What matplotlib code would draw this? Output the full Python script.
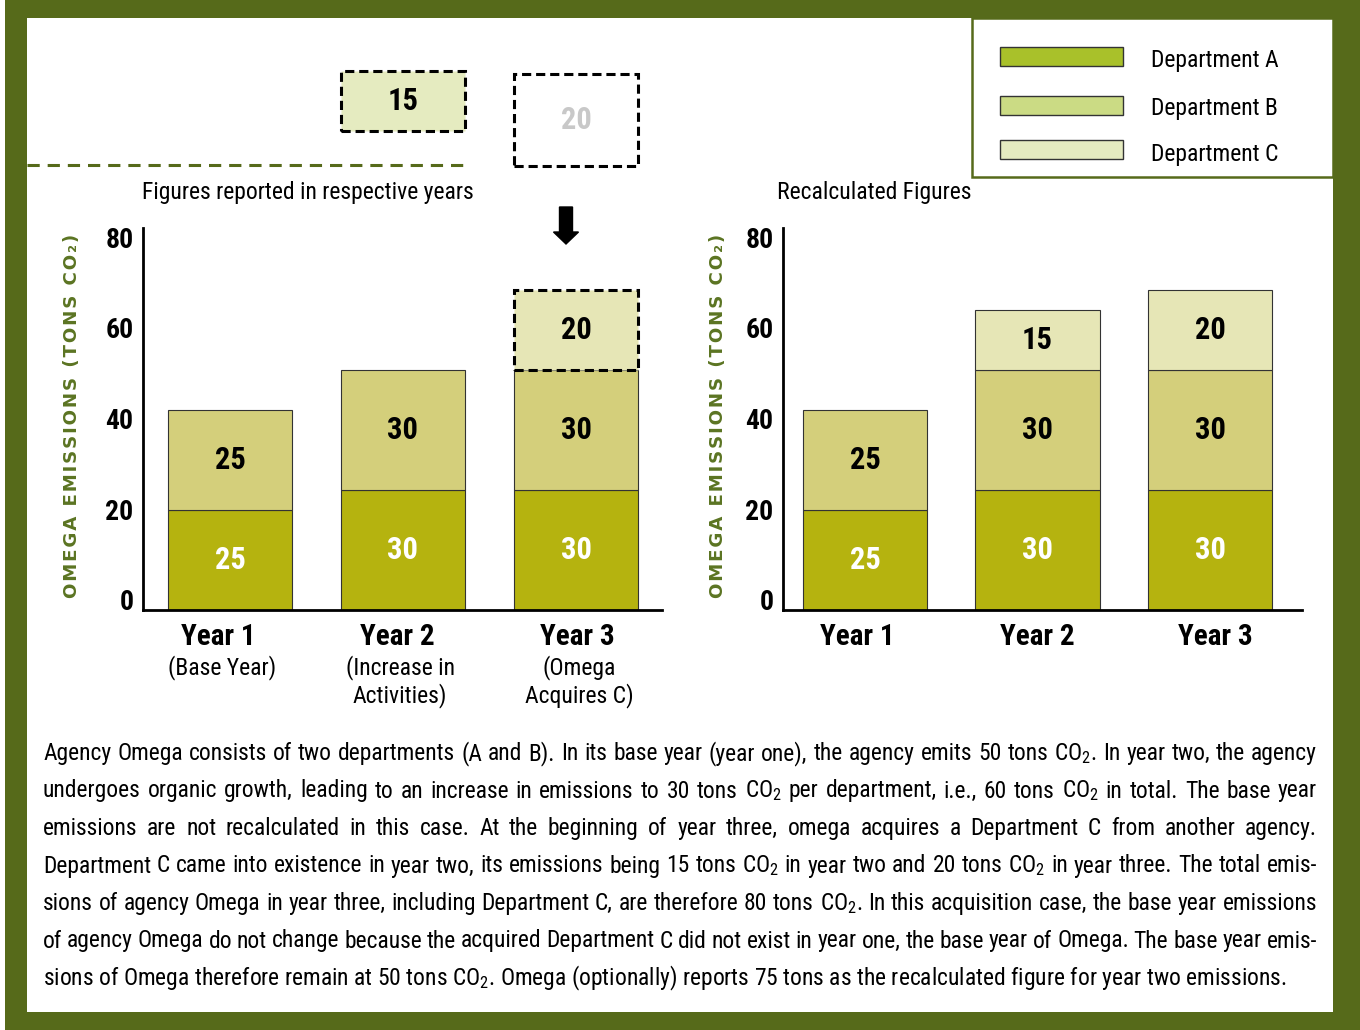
import matplotlib
matplotlib.use("Agg")
import matplotlib.pyplot as plt
from matplotlib import font_manager as fm
from matplotlib.patches import Rectangle, FancyArrow

W, H = 1360, 1030

# ---------------- data ----------------
years = ["Year 1", "Year 2", "Year 3"]
year_notes = ["(Base Year)", "(Increase in\nActivities)", "(Omega\nAcquires C)"]
departments = ["Department A", "Department B", "Department C"]
reported_A = [25, 30, 30]
reported_B = [25, 30, 30]
reported_C = [0, 0, 20]          # year 3: acquired Department C (dashed)
outside_C = [0, 15, 20]          # Department C figures shown above the chart
recalc_A = [25, 30, 30]
recalc_B = [25, 30, 30]
recalc_C = [0, 15, 20]
axis_ticks = [0, 20, 40, 60, 80]
title_left = "Figures reported in respective years"
title_right = "Recalculated Figures"
ylabel_text = "OMEGA EMISSIONS (TONS CO\u2082)"
body_lines = [
    "Agency Omega consists of two departments (A and B). In its base year (year one), the agency emits 50 tons CO$_2$. In year two, the agency",
    "undergoes organic growth, leading to an increase in emissions to 30 tons CO$_2$ per department, i.e., 60 tons CO$_2$ in total. The base year",
    "emissions are not recalculated in this case. At the beginning of year three, omega acquires a Department C from another agency.",
    "Department C came into existence in year two, its emissions being 15 tons CO$_2$ in year two and 20 tons CO$_2$ in year three. The total emis-",
    "sions of agency Omega in year three, including Department C, are therefore 80 tons CO$_2$. In this acquisition case, the base year emissions",
    "of agency Omega do not change because the acquired Department C did not exist in year one, the base year of Omega. The base year emis-",
    "sions of Omega therefore remain at 50 tons CO$_2$. Omega (optionally) reports 75 tons as the recalculated figure for year two emissions.",
]

# ---------------- style ----------------
FRAME = "#566a1a"
OLIVE_TXT = "#5b7422"
COL_A, COL_B, COL_C = "#b5b30f", "#d4cf7b", "#e6e6b6"
LEG_A, LEG_B, LEG_C = "#a9c12a", "#cbdb84", "#e5ebc0"
EDGE = "#333333"

avail = {f.name for f in fm.fontManager.ttflist}
NARROW = "DejaVu Sans"
for cand in ["Roboto Condensed", "Liberation Sans Narrow", "DejaVu Sans Condensed",
             "Open Sans Condensed", "Liberation Sans"]:
    if cand in avail:
        NARROW = cand
        break

plt.rcParams["font.family"] = [NARROW, "DejaVu Sans"]
plt.rcParams["mathtext.fontset"] = "custom"
plt.rcParams["mathtext.rm"] = NARROW
plt.rcParams["mathtext.it"] = NARROW
plt.rcParams["mathtext.bf"] = NARROW + ":bold"

fig = plt.figure(figsize=(W / 100, H / 100), dpi=100, facecolor="white")
renderer = fig.canvas.get_renderer()


def px_rect(x0, y0, x1, y1):
    return [x0 / W, 1 - y1 / H, (x1 - x0) / W, (y1 - y0) / H]


def fx(x):
    return x / W


def fy(y):
    return 1 - y / H


# background frame
bg = fig.add_axes([0, 0, 1, 1], zorder=-5)
bg.set_xlim(0, W)
bg.set_ylim(H, 0)
bg.axis("off")
bg.add_patch(Rectangle((5, 0), W - 5, H, facecolor=FRAME, edgecolor="none"))
bg.add_patch(Rectangle((27, 18), 1333 - 27, 1012 - 18, facecolor="white", edgecolor="none"))

PX_PER_UNIT = 4.0


def make_chart(x0, x1, centers_px, A, B, C, label_x, note_x=None, c_dashed=False):
    y_top, y_bot = 228, 610
    step = centers_px[1] - centers_px[0]
    ax = fig.add_axes(px_rect(x0, y_top, x1, y_bot), zorder=1)
    ax.patch.set_visible(False)
    ax.set_xlim((x0 - centers_px[0]) / step, (x1 - centers_px[0]) / step)
    ax.set_ylim(0, (y_bot - y_top) / PX_PER_UNIT)
    width = 124 / step
    xs = list(range(len(years)))
    ax.bar(xs, A, width, color=COL_A, edgecolor=EDGE, linewidth=0.8, zorder=2)
    ax.bar(xs, B, width, bottom=A, color=COL_B, edgecolor=EDGE, linewidth=0.8, zorder=2)
    botC = [a + b for a, b in zip(A, B)]
    for i in xs:
        if C[i] > 0:
            if c_dashed:
                ax.bar(i, C[i], width, bottom=botC[i], color=COL_C, edgecolor="black",
                       linewidth=2.2, linestyle=(0, (3, 1.6)), zorder=3)
            else:
                ax.bar(i, C[i], width, bottom=botC[i], color=COL_C, edgecolor=EDGE,
                       linewidth=0.8, zorder=2)
    for i in xs:
        ax.text(i, A[i] / 2, str(A[i]), ha="center", va="center", color="white",
                fontsize=22, fontweight="bold", zorder=5)
        ax.text(i, A[i] + B[i] / 2, str(B[i]), ha="center", va="center", color="black",
                fontsize=22, fontweight="bold", zorder=5)
        if C[i] > 0:
            ax.text(i, botC[i] + C[i] / 2, str(C[i]), ha="center", va="center",
                    color="black", fontsize=22, fontweight="bold", zorder=5)
    for s in ["top", "right"]:
        ax.spines[s].set_visible(False)
    for s in ["left", "bottom"]:
        ax.spines[s].set_linewidth(2.0)
        ax.spines[s].set_color("black")
    ax.set_xticks([])
    ax.set_yticks([])
    # scale axis carrying the tick labels
    sc = fig.add_axes(px_rect(x0, y_top, x1, y_bot), zorder=0)
    sc.patch.set_visible(False)
    for s in sc.spines.values():
        s.set_visible(False)
    sc.set_xticks([])
    sc.set_ylim(-10 / 4.5375, (600 - 228) / 4.5375)
    sc.set_yticks(axis_ticks)
    sc.set_yticklabels([str(t) for t in axis_ticks], fontsize=20, fontweight="bold")
    sc.tick_params(axis="y", length=0, pad=7)
    # year labels
    for i in xs:
        fig.text(fx(label_x[i]), fy(637), years[i], ha="center", va="center", fontsize=21,
                 fontweight="bold")
        if note_x is not None:
            fig.text(fx(note_x[i]), fy(655), year_notes[i], ha="center", va="top",
                     fontsize=17, linespacing=1.15)
    return ax


centers_left = [230, 403, 575]
centers_right = [865, 1037.5, 1210]
axL = make_chart(143, 662, centers_left, reported_A, reported_B, reported_C,
                 label_x=[218, 397, 577], note_x=[222, 400, 579], c_dashed=True)
axR = make_chart(783, 1302, centers_right, recalc_A, recalc_B, recalc_C,
                 label_x=[857, 1037, 1215])

# Department C boxes above the left chart (values outside Omega)
box_bottom_px = [None, 131, 166]
box_face = [None, LEG_C, "white"]
box_txt = [None, "black", "#c8c8c8"]
for i in range(len(years)):
    if outside_C[i] > 0:
        bottom = (610 - box_bottom_px[i]) / PX_PER_UNIT
        h = outside_C[i] * (1.0 if i == 1 else 1.15)
        axL.bar(i, h, 124 / 173, bottom=bottom, color=box_face[i], edgecolor="black",
                linewidth=2.2, linestyle=(0, (3, 1.6)), clip_on=False, zorder=3)
        axL.text(i, bottom + h / 2, str(outside_C[i]), ha="center", va="center",
                 color=box_txt[i], fontsize=22, fontweight="bold", clip_on=False, zorder=5)

# overlay: decorations in pixel coordinates
ov = fig.add_axes([0, 0, 1, 1], zorder=4)
ov.set_xlim(0, W)
ov.set_ylim(H, 0)
ov.axis("off")
ov.patch.set_visible(False)
ov.plot([27, 467], [165, 165], color=FRAME, lw=2.2, linestyle=(0, (4, 2.6)))
ov.add_patch(FancyArrow(566, 207, 0, 37, width=13, head_width=25, head_length=12,
                        length_includes_head=True, color="black"))
# legend
ov.add_patch(Rectangle((972, 18), 1333 - 972, 177 - 18, facecolor="white",
                       edgecolor=FRAME, lw=1.8))
for (yc, ty, col, lab) in zip([56.5, 105.5, 149.5], [61, 108, 155],
                              [LEG_A, LEG_B, LEG_C], departments):
    ov.add_patch(Rectangle((1000, yc - 9.5), 123, 19, facecolor=col, edgecolor=EDGE, lw=1))
    ov.text(1151, ty, lab, ha="left", va="center", fontsize=17)

# chart titles
fig.text(fx(308), fy(192), title_left, ha="center", va="center", fontsize=17)
fig.text(fx(874), fy(192), title_right, ha="center", va="center", fontsize=17)

# y labels (letter-spaced, fitted to the reference length)
spaced = "\u200a".join(list(ylabel_text))
target_len = 363
fs = 13.0
for _ in range(4):
    t = fig.text(0, 0, spaced, rotation=90, fontsize=fs, fontweight="bold",
                 family="DejaVu Sans")
    hh = t.get_window_extent(renderer).height
    t.remove()
    fs = fs * target_len / hh
for xc in [72, 718]:
    fig.text(fx(xc), fy(416), spaced, rotation=90, ha="center", va="center",
             fontsize=fs, fontweight="bold", color=OLIVE_TXT, family="DejaVu Sans")

# justified body text
BODY_FS = 16.9
x_left, x_right = 43, 1317
base0, dy = 760, 37.5


def width_px(s):
    t = fig.text(0, 0, s, fontsize=BODY_FS)
    w = t.get_window_extent(renderer).width
    t.remove()
    return w


for li, line in enumerate(body_lines):
    yb = base0 + li * dy
    if li == len(body_lines) - 1:
        fig.text(fx(x_left), fy(yb), line, ha="left", va="baseline", fontsize=BODY_FS)
        continue
    words = line.split(" ")
    ws = [width_px(w) for w in words]
    gap = (x_right - x_left - sum(ws)) / (len(words) - 1)
    x = x_left
    for w, wd in zip(words, ws):
        fig.text(fx(x), fy(yb), w, ha="left", va="baseline", fontsize=BODY_FS)
        x += wd + gap

fig.savefig("out.png", dpi=100, facecolor="white")
